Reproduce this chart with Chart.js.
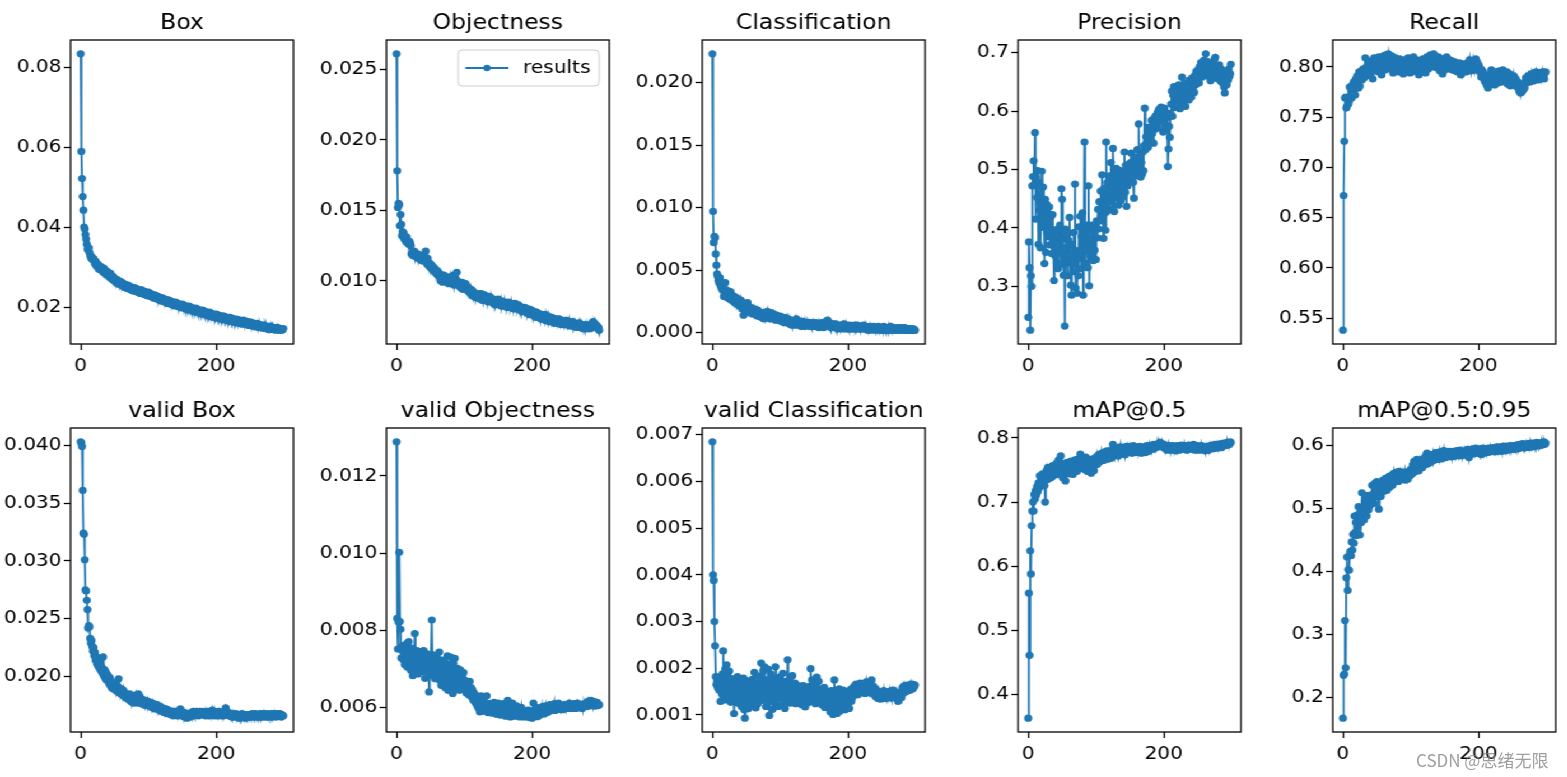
<!DOCTYPE html>
<html>
<head>
<meta charset="utf-8">
<script src="https://cdn.jsdelivr.net/npm/chart.js@4.4.1/dist/chart.umd.min.js"></script>
<style>
  html, body { margin: 0; padding: 0; background: #fff; width: 1567px; height: 777px; overflow: hidden; }
  #fig { position: absolute; left: 0; top: 0; width: 1400px; height: 777px; transform-origin: 0 0; transform: scaleX(1.12); }
  .panel { position: absolute; }
  #mark { position: absolute; left: 1416px; top: 747px; font: 17px "Noto Sans CJK SC", sans-serif; color: rgba(125,125,125,0.75); white-space: nowrap; }
</style>
</head>
<body>
<div id="fig"></div>
<div id="mark">CSDN @思绪无限</div>
<script>
// epochs 0..299
const epochs = [];
for (let e = 0; e < 300; e++) epochs.push(e);

// one value per epoch
const boxLoss = [
  0.0834,0.0590,0.0522,0.0477,0.0443,0.0401,0.0396,0.0382,0.0371,0.0358,
  0.0346,0.0344,0.0349,0.0337,0.0331,0.0324,0.0327,0.0321,0.0319,0.0322,
  0.0318,0.0309,0.0315,0.0304,0.0310,0.0301,0.0306,0.0296,0.0303,0.0294,
  0.0302,0.0292,0.0297,0.0289,0.0298,0.0286,0.0293,0.0288,0.0281,0.0290,
  0.0288,0.0279,0.0283,0.0275,0.0285,0.0272,0.0279,0.0270,0.0277,0.0267,
  0.0272,0.0265,0.0270,0.0261,0.0269,0.0264,0.0258,0.0266,0.0257,0.0263,
  0.0264,0.0255,0.0261,0.0252,0.0259,0.0250,0.0257,0.0253,0.0247,0.0255,
  0.0256,0.0248,0.0253,0.0245,0.0251,0.0243,0.0250,0.0246,0.0241,0.0249,
  0.0249,0.0241,0.0247,0.0239,0.0245,0.0237,0.0244,0.0240,0.0235,0.0243,
  0.0244,0.0236,0.0241,0.0233,0.0240,0.0232,0.0238,0.0234,0.0229,0.0237,
  0.0238,0.0230,0.0235,0.0227,0.0234,0.0226,0.0232,0.0228,0.0223,0.0230,
  0.0231,0.0223,0.0229,0.0221,0.0227,0.0219,0.0226,0.0222,0.0216,0.0224,
  0.0224,0.0216,0.0222,0.0214,0.0221,0.0213,0.0219,0.0215,0.0210,0.0218,
  0.0218,0.0210,0.0216,0.0208,0.0215,0.0207,0.0213,0.0209,0.0204,0.0212,
  0.0213,0.0205,0.0211,0.0203,0.0209,0.0201,0.0208,0.0204,0.0199,0.0206,
  0.0208,0.0200,0.0206,0.0198,0.0204,0.0196,0.0203,0.0199,0.0194,0.0201,
  0.0203,0.0195,0.0201,0.0193,0.0199,0.0191,0.0198,0.0194,0.0189,0.0196,
  0.0198,0.0190,0.0196,0.0188,0.0194,0.0186,0.0193,0.0189,0.0184,0.0191,
  0.0193,0.0185,0.0191,0.0183,0.0189,0.0181,0.0188,0.0184,0.0179,0.0186,
  0.0188,0.0180,0.0186,0.0178,0.0184,0.0176,0.0183,0.0179,0.0174,0.0181,
  0.0183,0.0176,0.0181,0.0174,0.0180,0.0172,0.0179,0.0175,0.0170,0.0177,
  0.0179,0.0172,0.0177,0.0170,0.0176,0.0168,0.0175,0.0171,0.0166,0.0173,
  0.0175,0.0168,0.0173,0.0166,0.0172,0.0164,0.0171,0.0167,0.0162,0.0169,
  0.0171,0.0164,0.0169,0.0162,0.0168,0.0160,0.0167,0.0163,0.0158,0.0165,
  0.0168,0.0161,0.0166,0.0159,0.0165,0.0157,0.0164,0.0160,0.0155,0.0162,
  0.0164,0.0157,0.0162,0.0155,0.0161,0.0153,0.0160,0.0156,0.0151,0.0158,
  0.0160,0.0153,0.0158,0.0151,0.0157,0.0150,0.0156,0.0152,0.0148,0.0154,
  0.0156,0.0149,0.0154,0.0147,0.0153,0.0146,0.0152,0.0148,0.0144,0.0150,
  0.0153,0.0147,0.0151,0.0145,0.0150,0.0144,0.0149,0.0146,0.0143,0.0148,
  0.0150,0.0144,0.0148,0.0143,0.0147,0.0144,0.0146,0.0143,0.0145,0.0147
];
const objLoss = [
  0.0261,0.0178,0.0152,0.0155,0.0154,0.0139,0.0147,0.0140,0.0132,0.0135,
  0.0134,0.0130,0.0132,0.0129,0.0128,0.0131,0.0127,0.0128,0.0126,0.0128,
  0.0127,0.0125,0.0119,0.0120,0.0118,0.0119,0.0121,0.0118,0.0117,0.0119,
  0.0118,0.0116,0.0119,0.0117,0.0118,0.0115,0.0117,0.0116,0.0114,0.0117,
  0.0116,0.0118,0.0115,0.0121,0.0114,0.0112,0.0116,0.0111,0.0113,0.0110,
  0.0112,0.0109,0.0111,0.0108,0.0110,0.0107,0.0109,0.0106,0.0108,0.0105,
  0.0107,0.0104,0.0106,0.0103,0.0105,0.0100,0.0104,0.0102,0.0099,0.0103,
  0.0104,0.0101,0.0103,0.0100,0.0102,0.0099,0.0101,0.0098,0.0102,0.0100,
  0.0103,0.0099,0.0101,0.0098,0.0104,0.0097,0.0100,0.0102,0.0099,0.0106,
  0.0100,0.0097,0.0099,0.0096,0.0098,0.0095,0.0097,0.0099,0.0094,0.0096,
  0.0097,0.0095,0.0098,0.0094,0.0096,0.0093,0.0095,0.0092,0.0094,0.0091,
  0.0094,0.0090,0.0093,0.0089,0.0092,0.0090,0.0091,0.0088,0.0090,0.0089,
  0.0091,0.0088,0.0090,0.0087,0.0089,0.0091,0.0088,0.0086,0.0089,0.0087,
  0.0090,0.0087,0.0089,0.0086,0.0088,0.0085,0.0087,0.0089,0.0086,0.0085,
  0.0088,0.0086,0.0087,0.0084,0.0086,0.0083,0.0085,0.0084,0.0086,0.0083,
  0.0087,0.0084,0.0085,0.0083,0.0086,0.0082,0.0084,0.0083,0.0085,0.0082,
  0.0085,0.0083,0.0084,0.0081,0.0083,0.0085,0.0082,0.0084,0.0081,0.0083,
  0.0084,0.0082,0.0083,0.0080,0.0082,0.0084,0.0081,0.0083,0.0080,0.0082,
  0.0083,0.0080,0.0082,0.0079,0.0081,0.0078,0.0080,0.0079,0.0081,0.0078,
  0.0081,0.0079,0.0080,0.0077,0.0079,0.0078,0.0080,0.0076,0.0078,0.0077,
  0.0079,0.0076,0.0078,0.0075,0.0077,0.0076,0.0078,0.0074,0.0076,0.0075,
  0.0077,0.0075,0.0076,0.0073,0.0075,0.0074,0.0076,0.0073,0.0075,0.0072,
  0.0076,0.0073,0.0074,0.0072,0.0075,0.0071,0.0073,0.0072,0.0074,0.0071,
  0.0074,0.0072,0.0073,0.0070,0.0072,0.0071,0.0073,0.0070,0.0072,0.0071,
  0.0073,0.0071,0.0072,0.0069,0.0071,0.0070,0.0072,0.0069,0.0071,0.0070,
  0.0072,0.0070,0.0071,0.0069,0.0070,0.0068,0.0071,0.0069,0.0070,0.0068,
  0.0071,0.0069,0.0070,0.0068,0.0069,0.0067,0.0069,0.0068,0.0070,0.0067,
  0.0070,0.0068,0.0069,0.0067,0.0068,0.0066,0.0068,0.0067,0.0069,0.0066,
  0.0068,0.0067,0.0068,0.0066,0.0067,0.0069,0.0066,0.0068,0.0067,0.0070,
  0.0071,0.0069,0.0070,0.0068,0.0069,0.0067,0.0068,0.0066,0.0067,0.0065
];
const clsLoss = [
  0.0223,0.0097,0.0072,0.0077,0.0076,0.0063,0.0054,0.0047,0.0045,0.0042,
  0.0040,0.0044,0.0038,0.0036,0.0040,0.0034,0.0037,0.0029,0.0033,0.0040,
  0.0031,0.0034,0.0028,0.0032,0.0030,0.0027,0.0033,0.0029,0.0026,0.0030,
  0.0027,0.0025,0.0029,0.0024,0.0026,0.0028,0.0023,0.0025,0.0027,0.0022,
  0.0025,0.0021,0.0026,0.0023,0.0019,0.0024,0.0014,0.0022,0.0020,0.0023,
  0.0020,0.0018,0.0024,0.0017,0.0021,0.0019,0.0016,0.0020,0.0018,0.0015,
  0.0018,0.0016,0.0019,0.0015,0.0017,0.0014,0.0016,0.0018,0.0013,0.0015,
  0.0016,0.0013,0.0015,0.0012,0.0014,0.0016,0.0011,0.0013,0.0015,0.0012,
  0.0014,0.0017,0.0012,0.0015,0.0013,0.0011,0.0014,0.0016,0.0012,0.0013,
  0.0015,0.0011,0.0013,0.0010,0.0012,0.0014,0.0011,0.0013,0.0010,0.0012,
  0.0011,0.0013,0.0009,0.0012,0.0010,0.0011,0.0008,0.0010,0.0012,0.0009,
  0.0010,0.0008,0.0011,0.0009,0.0007,0.0010,0.0008,0.0006,0.0009,0.0007,
  0.0008,0.0006,0.0009,0.0007,0.0011,0.0008,0.0006,0.0008,0.0007,0.0009,
  0.0007,0.0005,0.0008,0.0006,0.0009,0.0007,0.0005,0.0008,0.0006,0.0007,
  0.0008,0.0006,0.0007,0.0005,0.0008,0.0006,0.0007,0.0005,0.0008,0.0006,
  0.0007,0.0005,0.0006,0.0008,0.0005,0.0007,0.0006,0.0004,0.0007,0.0005,
  0.0006,0.0008,0.0005,0.0007,0.0004,0.0006,0.0005,0.0007,0.0009,0.0006,
  0.0010,0.0007,0.0005,0.0008,0.0006,0.0004,0.0006,0.0005,0.0007,0.0004,
  0.0006,0.0005,0.0007,0.0004,0.0006,0.0003,0.0005,0.0006,0.0004,0.0005,
  0.0004,0.0006,0.0003,0.0005,0.0007,0.0004,0.0005,0.0003,0.0006,0.0004,
  0.0005,0.0003,0.0004,0.0006,0.0003,0.0005,0.0004,0.0003,0.0005,0.0004,
  0.0006,0.0003,0.0005,0.0004,0.0006,0.0003,0.0004,0.0005,0.0003,0.0004,
  0.0003,0.0005,0.0004,0.0006,0.0003,0.0004,0.0005,0.0003,0.0004,0.0002,
  0.0004,0.0003,0.0005,0.0003,0.0004,0.0002,0.0004,0.0003,0.0005,0.0003,
  0.0004,0.0003,0.0002,0.0004,0.0003,0.0005,0.0003,0.0004,0.0002,0.0003,
  0.0004,0.0002,0.0003,0.0005,0.0003,0.0004,0.0002,0.0003,0.0004,0.0002,
  0.0003,0.0004,0.0002,0.0005,0.0003,0.0002,0.0004,0.0003,0.0002,0.0003,
  0.0002,0.0004,0.0003,0.0002,0.0003,0.0004,0.0002,0.0003,0.0002,0.0004,
  0.0003,0.0002,0.0003,0.0002,0.0004,0.0003,0.0002,0.0003,0.0002,0.0003,
  0.0002,0.0003,0.0002,0.0003,0.0002,0.0003,0.0002,0.0003,0.0002,0.0002
];
const precision = [
  0.247,0.376,0.332,0.225,0.318,0.300,0.472,0.488,0.515,0.474,
  0.563,0.415,0.487,0.452,0.498,0.372,0.478,0.430,0.366,0.442,
  0.497,0.401,0.470,0.428,0.339,0.449,0.358,0.441,0.392,0.426,
  0.385,0.436,0.371,0.418,0.392,0.356,0.423,0.381,0.310,0.395,
  0.352,0.387,0.341,0.398,0.330,0.372,0.360,0.405,0.338,0.467,
  0.449,0.381,0.319,0.366,0.232,0.398,0.345,0.389,0.318,0.379,
  0.340,0.418,0.356,0.302,0.285,0.372,0.325,0.392,0.338,0.475,
  0.297,0.361,0.288,0.347,0.318,0.402,0.356,0.420,0.330,0.385,
  0.426,0.285,0.368,0.547,0.340,0.392,0.361,0.405,0.332,0.472,
  0.301,0.380,0.352,0.405,0.368,0.398,0.344,0.392,0.362,0.405,
  0.346,0.412,0.383,0.432,0.398,0.445,0.412,0.463,0.420,0.491,
  0.437,0.382,0.468,0.425,0.396,0.547,0.428,0.478,0.451,0.432,
  0.489,0.445,0.512,0.461,0.432,0.536,0.470,0.428,0.495,0.458,
  0.502,0.451,0.487,0.439,0.478,0.462,0.498,0.447,0.481,0.453,
  0.492,0.470,0.530,0.461,0.507,0.437,0.488,0.472,0.509,0.481,
  0.496,0.512,0.528,0.485,0.503,0.478,0.451,0.521,0.497,0.510,
  0.489,0.534,0.507,0.578,0.495,0.521,0.487,0.512,0.492,0.530,
  0.498,0.541,0.605,0.534,0.556,0.547,0.572,0.538,0.561,0.549,
  0.571,0.552,0.584,0.561,0.578,0.545,0.588,0.569,0.592,0.576,
  0.583,0.598,0.571,0.603,0.588,0.595,0.607,0.582,0.599,0.564,
  0.592,0.605,0.578,0.598,0.571,0.589,0.505,0.535,0.574,0.555,
  0.596,0.612,0.634,0.591,0.627,0.642,0.618,0.606,0.638,0.625,
  0.611,0.632,0.645,0.622,0.604,0.637,0.619,0.658,0.628,0.613,
  0.640,0.622,0.608,0.635,0.648,0.626,0.641,0.619,0.653,0.631,
  0.646,0.624,0.657,0.638,0.650,0.632,0.661,0.645,0.668,0.652,
  0.659,0.671,0.648,0.676,0.662,0.683,0.658,0.672,0.664,0.687,
  0.669,0.678,0.698,0.663,0.685,0.671,0.659,0.677,0.666,0.652,
  0.673,0.661,0.682,0.668,0.657,0.689,0.692,0.670,0.662,0.676,
  0.655,0.668,0.679,0.661,0.651,0.672,0.664,0.648,0.659,0.641,
  0.631,0.652,0.667,0.645,0.660,0.653,0.672,0.659,0.664,0.680
];
const recall = [
  0.538,0.672,0.726,0.769,0.770,0.759,0.761,0.768,0.763,0.766,
  0.780,0.771,0.776,0.769,0.782,0.774,0.785,0.777,0.772,0.788,
  0.783,0.791,0.786,0.779,0.795,0.781,0.790,0.796,0.787,0.793,
  0.798,0.789,0.796,0.809,0.791,0.800,0.794,0.803,0.797,0.805,
  0.799,0.793,0.806,0.800,0.788,0.802,0.809,0.797,0.804,0.799,
  0.807,0.801,0.795,0.810,0.803,0.798,0.806,0.792,0.808,0.801,
  0.811,0.804,0.797,0.812,0.806,0.800,0.809,0.813,0.802,0.807,
  0.798,0.805,0.811,0.800,0.794,0.806,0.802,0.809,0.797,0.804,
  0.799,0.806,0.801,0.795,0.808,0.803,0.797,0.805,0.800,0.793,
  0.804,0.798,0.807,0.801,0.795,0.803,0.809,0.797,0.802,0.794,
  0.806,0.800,0.795,0.803,0.810,0.798,0.804,0.796,0.801,0.807,
  0.797,0.803,0.792,0.806,0.799,0.804,0.795,0.801,0.808,0.798,
  0.805,0.799,0.794,0.802,0.810,0.804,0.798,0.806,0.801,0.812,
  0.803,0.808,0.800,0.806,0.813,0.804,0.809,0.801,0.807,0.799,
  0.805,0.810,0.802,0.796,0.804,0.808,0.800,0.793,0.806,0.802,
  0.797,0.808,0.803,0.810,0.799,0.805,0.801,0.807,0.798,0.804,
  0.800,0.806,0.797,0.803,0.799,0.805,0.796,0.802,0.798,0.795,
  0.801,0.796,0.804,0.799,0.792,0.798,0.794,0.800,0.796,0.803,
  0.797,0.801,0.795,0.799,0.804,0.798,0.802,0.807,0.800,0.796,
  0.804,0.799,0.806,0.801,0.797,0.803,0.808,0.800,0.805,0.798,
  0.802,0.796,0.799,0.794,0.790,0.797,0.792,0.795,0.788,0.791,
  0.785,0.790,0.782,0.788,0.779,0.786,0.792,0.783,0.789,0.797,
  0.791,0.785,0.793,0.787,0.782,0.790,0.795,0.786,0.792,0.784,
  0.789,0.796,0.788,0.793,0.785,0.791,0.797,0.789,0.794,0.786,
  0.792,0.788,0.795,0.783,0.790,0.786,0.793,0.781,0.788,0.784,
  0.788,0.784,0.791,0.786,0.782,0.788,0.784,0.780,0.785,0.779,
  0.776,0.781,0.774,0.778,0.775,0.780,0.777,0.783,0.779,0.785,
  0.789,0.784,0.787,0.791,0.786,0.790,0.785,0.789,0.793,0.787,
  0.791,0.786,0.794,0.788,0.792,0.795,0.789,0.793,0.787,0.791,
  0.794,0.790,0.788,0.793,0.789,0.795,0.791,0.788,0.794,0.795
];
const valBox = [
  0.0403,0.0402,0.0399,0.0361,0.0324,0.0323,0.0301,0.0275,0.0274,0.0266,
  0.0258,0.0242,0.0244,0.0243,0.0233,0.0229,0.0231,0.0226,0.0222,0.0225,
  0.0218,0.0221,0.0214,0.0217,0.0211,0.0216,0.0209,0.0213,0.0207,0.0210,
  0.0205,0.0208,0.0203,0.0217,0.0201,0.0206,0.0199,0.0204,0.0197,0.0202,
  0.0197,0.0200,0.0194,0.0199,0.0192,0.0196,0.0190,0.0195,0.0193,0.0189,
  0.0190,0.0194,0.0188,0.0192,0.0187,0.0191,0.0198,0.0186,0.0190,0.0185,
  0.0187,0.0189,0.0184,0.0188,0.0183,0.0186,0.0182,0.0185,0.0181,0.0184,
  0.0183,0.0180,0.0185,0.0179,0.0182,0.0178,0.0183,0.0180,0.0177,0.0181,
  0.0181,0.0184,0.0179,0.0182,0.0177,0.0185,0.0180,0.0183,0.0178,0.0181,
  0.0179,0.0176,0.0180,0.0177,0.0179,0.0175,0.0178,0.0176,0.0179,0.0175,
  0.0177,0.0175,0.0178,0.0174,0.0176,0.0173,0.0177,0.0174,0.0176,0.0172,
  0.0175,0.0173,0.0176,0.0172,0.0174,0.0171,0.0173,0.0172,0.0174,0.0170,
  0.0173,0.0171,0.0172,0.0169,0.0171,0.0170,0.0172,0.0168,0.0171,0.0169,
  0.0171,0.0168,0.0170,0.0167,0.0169,0.0168,0.0170,0.0166,0.0169,0.0167,
  0.0169,0.0167,0.0168,0.0166,0.0170,0.0167,0.0169,0.0172,0.0168,0.0166,
  0.0168,0.0166,0.0169,0.0165,0.0167,0.0166,0.0168,0.0164,0.0167,0.0165,
  0.0167,0.0165,0.0168,0.0166,0.0169,0.0167,0.0170,0.0168,0.0166,0.0169,
  0.0168,0.0170,0.0167,0.0169,0.0166,0.0168,0.0170,0.0167,0.0169,0.0168,
  0.0170,0.0167,0.0169,0.0168,0.0166,0.0169,0.0167,0.0170,0.0168,0.0166,
  0.0169,0.0167,0.0170,0.0168,0.0171,0.0167,0.0169,0.0166,0.0170,0.0168,
  0.0169,0.0167,0.0166,0.0168,0.0170,0.0167,0.0169,0.0166,0.0168,0.0167,
  0.0169,0.0166,0.0168,0.0171,0.0173,0.0168,0.0170,0.0167,0.0169,0.0166,
  0.0168,0.0166,0.0167,0.0165,0.0168,0.0166,0.0167,0.0165,0.0166,0.0168,
  0.0166,0.0165,0.0167,0.0166,0.0164,0.0167,0.0165,0.0166,0.0168,0.0165,
  0.0167,0.0165,0.0166,0.0164,0.0167,0.0166,0.0165,0.0167,0.0166,0.0165,
  0.0167,0.0165,0.0166,0.0168,0.0166,0.0167,0.0165,0.0166,0.0168,0.0166,
  0.0167,0.0165,0.0166,0.0167,0.0165,0.0168,0.0166,0.0167,0.0165,0.0166,
  0.0168,0.0166,0.0167,0.0165,0.0166,0.0168,0.0167,0.0165,0.0166,0.0167,
  0.0166,0.0168,0.0165,0.0167,0.0166,0.0168,0.0166,0.0167,0.0165,0.0167,
  0.0168,0.0166,0.0167,0.0166,0.0168,0.0167,0.0165,0.0167,0.0166,0.0166
];
const valObj = [
  0.01288,0.00831,0.00752,0.00822,0.01002,0.00823,0.00803,0.00729,0.00748,0.00761,
  0.00724,0.00745,0.00712,0.00758,0.00731,0.00766,0.00705,0.00742,0.00771,0.00718,
  0.00736,0.00697,0.00754,0.00712,0.00683,0.00741,0.00709,0.00792,0.00726,0.00695,
  0.00748,0.00716,0.00687,0.00733,0.00702,0.00745,0.00721,0.00694,0.00738,0.00711,
  0.00748,0.00727,0.00676,0.00741,0.00705,0.00734,0.00688,0.00722,0.00641,0.00715,
  0.00696,0.00739,0.00827,0.00712,0.00683,0.00728,0.00701,0.00675,0.00736,0.00694,
  0.00719,0.00682,0.00709,0.00744,0.00671,0.00701,0.00658,0.00723,0.00686,0.00664,
  0.00697,0.00716,0.00652,0.00688,0.00671,0.00734,0.00645,0.00702,0.00668,0.00712,
  0.00731,0.00654,0.00689,0.00637,0.00715,0.00672,0.00728,0.00648,0.00681,0.00661,
  0.00702,0.00667,0.00688,0.00645,0.00698,0.00671,0.00652,0.00684,0.00663,0.00691,
  0.00672,0.00648,0.00669,0.00638,0.00661,0.00642,0.00657,0.00633,0.00668,0.00641,
  0.00652,0.00628,0.00646,0.00621,0.00639,0.00617,0.00634,0.00612,0.00628,0.00605,
  0.00624,0.00598,0.00617,0.00589,0.00612,0.00631,0.00603,0.00591,0.00618,0.00597,
  0.00612,0.00593,0.00608,0.00631,0.00598,0.00587,0.00611,0.00594,0.00605,0.00589,
  0.00603,0.00586,0.00609,0.00592,0.00614,0.00588,0.00601,0.00583,0.00607,0.00594,
  0.00612,0.00589,0.00602,0.00581,0.00597,0.00609,0.00585,0.00598,0.00611,0.00582,
  0.00595,0.00578,0.00603,0.00587,0.00619,0.00592,0.00584,0.00598,0.00576,0.00601,
  0.00589,0.00612,0.00583,0.00597,0.00578,0.00594,0.00586,0.00605,0.00579,0.00591,
  0.00582,0.00598,0.00576,0.00589,0.00601,0.00579,0.00593,0.00585,0.00576,0.00588,
  0.00581,0.00592,0.00577,0.00586,0.00579,0.00594,0.00575,0.00583,0.00578,0.00587,
  0.00573,0.00588,0.00612,0.00579,0.00594,0.00582,0.00601,0.00585,0.00577,0.00592,
  0.00586,0.00598,0.00581,0.00593,0.00587,0.00603,0.00589,0.00597,0.00584,0.00594,
  0.00605,0.00591,0.00598,0.00588,0.00602,0.00594,0.00608,0.00592,0.00599,0.00604,
  0.00595,0.00607,0.00598,0.00611,0.00593,0.00602,0.00597,0.00605,0.00599,0.00612,
  0.00601,0.00596,0.00607,0.00599,0.00604,0.00595,0.00602,0.00597,0.00608,0.00601,
  0.00606,0.00598,0.00603,0.00609,0.00601,0.00612,0.00604,0.00598,0.00607,0.00602,
  0.00599,0.00605,0.00611,0.00603,0.00608,0.00598,0.00604,0.00612,0.00601,0.00606,
  0.00603,0.00609,0.00601,0.00605,0.00598,0.00607,0.00603,0.00611,0.00604,0.00608,
  0.00606,0.00612,0.00603,0.00617,0.00609,0.00614,0.00606,0.00619,0.00611,0.00605,
  0.00613,0.00608,0.00616,0.00604,0.00611,0.00607,0.00614,0.00609,0.00606,0.00608
];
const valCls = [
  0.00685,0.00400,0.00388,0.00300,0.00248,0.00182,0.00165,0.00172,0.00158,0.00181,
  0.00153,0.00176,0.00129,0.00162,0.00145,0.00188,0.00237,0.00141,0.00172,0.00198,
  0.00132,0.00207,0.00159,0.00183,0.00138,0.00194,0.00152,0.00127,0.00178,0.00162,
  0.00145,0.00171,0.00103,0.00158,0.00136,0.00167,0.00149,0.00182,0.00125,0.00161,
  0.00139,0.00174,0.00152,0.00118,0.00165,0.00133,0.00179,0.00111,0.00093,0.00142,
  0.00168,0.00127,0.00155,0.00113,0.00173,0.00141,0.00119,0.00162,0.00135,0.00176,
  0.00128,0.00157,0.00191,0.00136,0.00115,0.00168,0.00147,0.00124,0.00183,0.00152,
  0.00139,0.00172,0.00211,0.00158,0.00131,0.00194,0.00147,0.00203,0.00162,0.00118,
  0.00175,0.00143,0.00198,0.00127,0.00099,0.00156,0.00188,0.00134,0.00169,0.00112,
  0.00147,0.00178,0.00125,0.00203,0.00159,0.00137,0.00174,0.00118,0.00152,0.00181,
  0.00136,0.00163,0.00121,0.00155,0.00189,0.00132,0.00168,0.00114,0.00147,0.00172,
  0.00128,0.00218,0.00153,0.00139,0.00177,0.00125,0.00161,0.00143,0.00184,0.00131,
  0.00152,0.00137,0.00168,0.00124,0.00149,0.00158,0.00133,0.00145,0.00162,0.00128,
  0.00141,0.00156,0.00122,0.00148,0.00163,0.00131,0.00145,0.00117,0.00152,0.00139,
  0.00158,0.00126,0.00143,0.00161,0.00134,0.00199,0.00148,0.00175,0.00129,0.00151,
  0.00137,0.00162,0.00124,0.00146,0.00181,0.00133,0.00155,0.00172,0.00128,0.00145,
  0.00139,0.00154,0.00121,0.00148,0.00134,0.00159,0.00116,0.00142,0.00127,0.00151,
  0.00133,0.00118,0.00145,0.00126,0.00107,0.00139,0.00152,0.00123,0.00101,0.00136,
  0.00175,0.00112,0.00148,0.00125,0.00103,0.00137,0.00119,0.00156,0.00108,0.00131,
  0.00114,0.00142,0.00126,0.00153,0.00119,0.00135,0.00111,0.00147,0.00128,0.00139,
  0.00121,0.00143,0.00114,0.00136,0.00155,0.00129,0.00147,0.00138,0.00159,0.00146,
  0.00162,0.00151,0.00166,0.00147,0.00159,0.00143,0.00164,0.00152,0.00168,0.00155,
  0.00149,0.00162,0.00154,0.00167,0.00158,0.00146,0.00163,0.00171,0.00155,0.00149,
  0.00161,0.00152,0.00147,0.00168,0.00156,0.00175,0.00151,0.00162,0.00144,0.00158,
  0.00147,0.00139,0.00154,0.00142,0.00135,0.00149,0.00138,0.00145,0.00134,0.00141,
  0.00136,0.00147,0.00139,0.00152,0.00141,0.00135,0.00148,0.00137,0.00144,0.00139,
  0.00145,0.00138,0.00151,0.00142,0.00136,0.00149,0.00141,0.00153,0.00139,0.00146,
  0.00138,0.00147,0.00135,0.00144,0.00129,0.00141,0.00136,0.00148,0.00142,0.00137,
  0.00152,0.00159,0.00147,0.00162,0.00155,0.00149,0.00163,0.00158,0.00151,0.00164,
  0.00157,0.00162,0.00153,0.00166,0.00159,0.00163,0.00156,0.00165,0.00161,0.00164
];
const map50 = [
  0.363,0.558,0.461,0.624,0.588,0.663,0.686,0.700,0.686,0.712,
  0.705,0.718,0.711,0.724,0.716,0.730,0.722,0.741,0.727,0.735,
  0.729,0.744,0.733,0.738,0.726,0.700,0.742,0.749,0.735,0.754,
  0.740,0.748,0.737,0.752,0.744,0.739,0.757,0.746,0.751,0.742,
  0.755,0.748,0.761,0.743,0.752,0.766,0.749,0.758,0.772,0.745,
  0.753,0.738,0.760,0.747,0.756,0.733,0.752,0.762,0.748,0.757,
  0.744,0.759,0.751,0.764,0.749,0.757,0.743,0.762,0.754,0.766,
  0.752,0.760,0.748,0.767,0.755,0.763,0.758,0.775,0.761,0.753,
  0.768,0.757,0.764,0.751,0.762,0.770,0.756,0.748,0.764,0.759,
  0.752,0.766,0.757,0.745,0.761,0.754,0.768,0.749,0.763,0.758,
  0.764,0.771,0.759,0.767,0.774,0.762,0.770,0.765,0.776,0.768,
  0.773,0.765,0.778,0.769,0.775,0.771,0.780,0.767,0.777,0.772,
  0.779,0.774,0.768,0.781,0.776,0.790,0.777,0.783,0.773,0.780,
  0.776,0.784,0.779,0.772,0.782,0.778,0.786,0.775,0.781,0.777,
  0.783,0.779,0.785,0.774,0.781,0.787,0.778,0.784,0.780,0.786,
  0.779,0.785,0.781,0.776,0.783,0.788,0.780,0.784,0.777,0.782,
  0.786,0.780,0.784,0.778,0.782,0.787,0.781,0.776,0.783,0.785,
  0.780,0.786,0.782,0.777,0.784,0.788,0.783,0.779,0.785,0.781,
  0.787,0.783,0.788,0.782,0.786,0.790,0.784,0.788,0.785,0.789,
  0.786,0.791,0.787,0.792,0.788,0.793,0.789,0.786,0.791,0.787,
  0.790,0.785,0.788,0.783,0.787,0.781,0.786,0.782,0.788,0.784,
  0.786,0.781,0.785,0.788,0.783,0.787,0.782,0.786,0.780,0.785,
  0.788,0.783,0.787,0.781,0.786,0.784,0.789,0.782,0.787,0.785,
  0.783,0.788,0.784,0.786,0.781,0.787,0.785,0.789,0.783,0.786,
  0.784,0.788,0.782,0.786,0.790,0.784,0.787,0.781,0.785,0.788,
  0.783,0.787,0.785,0.781,0.786,0.783,0.788,0.784,0.782,0.786,
  0.784,0.780,0.785,0.782,0.787,0.784,0.781,0.786,0.783,0.788,
  0.785,0.789,0.786,0.783,0.788,0.785,0.790,0.787,0.784,0.789,
  0.786,0.790,0.787,0.791,0.788,0.785,0.790,0.787,0.792,0.789,
  0.791,0.788,0.792,0.790,0.793,0.789,0.792,0.790,0.794,0.793
];
const map5095 = [
  0.167,0.235,0.237,0.322,0.247,0.390,0.423,0.370,0.403,0.402,
  0.427,0.432,0.425,0.447,0.434,0.459,0.445,0.488,0.462,0.478,
  0.457,0.490,0.471,0.503,0.484,0.458,0.497,0.478,0.525,0.489,
  0.502,0.482,0.511,0.494,0.516,0.488,0.507,0.521,0.498,0.513,
  0.505,0.519,0.509,0.537,0.512,0.524,0.508,0.540,0.518,0.529,
  0.543,0.522,0.534,0.499,0.528,0.538,0.519,0.541,0.531,0.545,
  0.527,0.539,0.533,0.548,0.536,0.529,0.544,0.538,0.551,0.534,
  0.546,0.540,0.553,0.537,0.549,0.556,0.542,0.551,0.545,0.558,
  0.548,0.554,0.543,0.559,0.550,0.546,0.557,0.552,0.548,0.555,
  0.551,0.558,0.545,0.553,0.549,0.556,0.547,0.554,0.560,0.552,
  0.557,0.563,0.555,0.569,0.561,0.575,0.558,0.572,0.564,0.578,
  0.566,0.571,0.560,0.574,0.568,0.576,0.570,0.565,0.579,0.573,
  0.577,0.569,0.583,0.574,0.588,0.578,0.571,0.585,0.576,0.582,
  0.574,0.580,0.576,0.586,0.579,0.583,0.577,0.589,0.581,0.585,
  0.578,0.584,0.580,0.590,0.583,0.587,0.579,0.586,0.582,0.592,
  0.584,0.588,0.581,0.586,0.590,0.583,0.589,0.585,0.591,0.586,
  0.582,0.588,0.584,0.591,0.586,0.583,0.589,0.585,0.592,0.587,
  0.584,0.590,0.586,0.593,0.588,0.584,0.591,0.587,0.589,0.585,
  0.590,0.586,0.592,0.588,0.594,0.589,0.581,0.591,0.587,0.593,
  0.589,0.595,0.590,0.587,0.594,0.591,0.596,0.588,0.593,0.590,
  0.592,0.588,0.595,0.591,0.586,0.593,0.589,0.596,0.592,0.588,
  0.594,0.590,0.595,0.592,0.589,0.596,0.593,0.590,0.595,0.591,
  0.593,0.597,0.592,0.595,0.590,0.596,0.593,0.598,0.594,0.591,
  0.596,0.593,0.598,0.595,0.591,0.597,0.594,0.599,0.595,0.592,
  0.597,0.594,0.599,0.596,0.593,0.598,0.595,0.600,0.596,0.594,
  0.598,0.595,0.600,0.597,0.594,0.599,0.596,0.601,0.597,0.595,
  0.599,0.602,0.597,0.600,0.598,0.603,0.599,0.596,0.601,0.598,
  0.602,0.599,0.603,0.600,0.597,0.602,0.599,0.604,0.600,0.598,
  0.601,0.604,0.600,0.603,0.599,0.602,0.605,0.601,0.603,0.600,
  0.603,0.600,0.604,0.602,0.605,0.601,0.603,0.606,0.602,0.604
];

const titles = ['Box', 'Objectness', 'Classification', 'Precision', 'Recall',
  'valid Box', 'valid Objectness', 'valid Classification', 'mAP@0.5', 'mAP@0.5:0.95'];
const seriesList = [boxLoss, objLoss, clsLoss, precision, recall, valBox, valObj, valCls, map50, map5095];
const yTickValues = [
  [0.02, 0.04, 0.06, 0.08],
  [0.010, 0.015, 0.020, 0.025],
  [0.000, 0.005, 0.010, 0.015, 0.020],
  [0.3, 0.4, 0.5, 0.6, 0.7],
  [0.55, 0.60, 0.65, 0.70, 0.75, 0.80],
  [0.020, 0.025, 0.030, 0.035, 0.040],
  [0.006, 0.008, 0.010, 0.012],
  [0.001, 0.002, 0.003, 0.004, 0.005, 0.006, 0.007],
  [0.4, 0.5, 0.6, 0.7, 0.8],
  [0.2, 0.3, 0.4, 0.5, 0.6]
];
const yTickLabels = [
  ['0.02', '0.04', '0.06', '0.08'],
  ['0.010', '0.015', '0.020', '0.025'],
  ['0.000', '0.005', '0.010', '0.015', '0.020'],
  ['0.3', '0.4', '0.5', '0.6', '0.7'],
  ['0.55', '0.60', '0.65', '0.70', '0.75', '0.80'],
  ['0.020', '0.025', '0.030', '0.035', '0.040'],
  ['0.006', '0.008', '0.010', '0.012'],
  ['0.001', '0.002', '0.003', '0.004', '0.005', '0.006', '0.007'],
  ['0.4', '0.5', '0.6', '0.7', '0.8'],
  ['0.2', '0.3', '0.4', '0.5', '0.6']
];
const xTickValues = [0, 200];
const xTickLabels = ['0', '200'];
const legendLabel = 'results';

// layout (page pixels); the figure is stretched horizontally by SX
const SX = 1.12;
const colLeft = [70, 386, 702, 1018, 1333];
const rowTop = [40, 428];
const PLOT_W = Math.round(223 / SX), PLOT_H = 304;
const Y_AX = 60, X_AX = 40, TOP_PAD = 40, RIGHT_PAD = 10;
const BLUE = '#1f77b4';
const FONT = 'DejaVu Sans';
const DOT = 3.6;

const panelPlugin = {
  id: 'panel',
  afterDraw(chart, args, opts) {
    const ctx = chart.ctx, a = chart.chartArea;
    ctx.save();
    ctx.strokeStyle = '#000';
    ctx.lineWidth = 1.3;
    ctx.strokeRect(a.left, a.top, a.right - a.left, a.bottom - a.top);
    ctx.fillStyle = '#000';
    ctx.font = '21px "' + FONT + '"';
    ctx.textAlign = 'center';
    ctx.textBaseline = 'alphabetic';
    ctx.fillText(opts.title, (a.left + a.right) / 2, a.top - 11);
    if (opts.legend) {
      const bw = 126, bh = 36;
      const bx = a.right - 9 - bw, by = a.top + 10;
      ctx.beginPath();
      ctx.roundRect(bx, by, bw, bh, 4);
      ctx.fillStyle = 'rgba(255,255,255,0.8)';
      ctx.fill();
      ctx.strokeStyle = '#cccccc';
      ctx.lineWidth = 1;
      ctx.stroke();
      const my = by + bh / 2;
      ctx.strokeStyle = BLUE;
      ctx.lineWidth = 1.8;
      ctx.beginPath();
      ctx.moveTo(bx + 6.5, my);
      ctx.lineTo(bx + 45, my);
      ctx.stroke();
      ctx.fillStyle = BLUE;
      ctx.beginPath();
      ctx.arc(bx + 25.8, my, 3.2, 0, Math.PI * 2);
      ctx.fill();
      ctx.fillStyle = '#000';
      ctx.textAlign = 'left';
      ctx.textBaseline = 'middle';
      ctx.font = '18px "' + FONT + '"';
      ctx.fillText(opts.legend, bx + 58, my);
    }
    ctx.restore();
  }
};

function padRange(vals) {
  const lo = Math.min(...vals), hi = Math.max(...vals);
  const p = (hi - lo) * 0.05;
  return [lo - p, hi + p];
}

const fig = document.getElementById('fig');
const [xMin, xMax] = padRange(epochs);

seriesList.forEach(function(series, i) {
  const c = i % 5, r = Math.floor(i / 5);
  const wrap = document.createElement('div');
  wrap.className = 'panel';
  wrap.style.left = (colLeft[c] / SX - Y_AX) + 'px';
  wrap.style.top = (rowTop[r] - TOP_PAD) + 'px';
  const canvas = document.createElement('canvas');
  canvas.width = Y_AX + PLOT_W + RIGHT_PAD;
  canvas.height = TOP_PAD + PLOT_H + X_AX;
  wrap.appendChild(canvas);
  fig.appendChild(wrap);

  const [yMin, yMax] = padRange(series);
  const tickFont = { family: FONT, size: 18 };
  const grid = { drawOnChartArea: false, drawTicks: true, tickLength: 6, tickWidth: 1.3, tickColor: '#000' };

  new Chart(canvas, {
    type: 'line',
    data: {
      datasets: [{
        label: legendLabel,
        data: epochs.map((e, k) => ({ x: e, y: series[k] })),
        borderColor: BLUE,
        backgroundColor: BLUE,
        borderWidth: 1.8,
        pointRadius: DOT,
        pointBorderWidth: 0,
        pointHoverRadius: 0,
        tension: 0
      }]
    },
    options: {
      responsive: false,
      animation: false,
      events: [],
      layout: { padding: { top: TOP_PAD, right: RIGHT_PAD, left: 0, bottom: 0 } },
      scales: {
        x: {
          type: 'linear', min: xMin, max: xMax,
          afterBuildTicks: s => { s.ticks = xTickValues.map(v => ({ value: v })); },
          afterFit: s => { s.height = X_AX; },
          ticks: { callback: (v, k) => xTickLabels[k], font: tickFont, color: '#000', padding: 6, maxRotation: 0, autoSkip: false },
          grid: grid,
          border: { display: false }
        },
        y: {
          type: 'linear', min: yMin, max: yMax,
          afterBuildTicks: s => { s.ticks = yTickValues[i].map(v => ({ value: v })); },
          afterFit: s => { s.width = Y_AX; },
          ticks: { callback: (v, k) => yTickLabels[i][k], font: tickFont, color: '#000', padding: 2, autoSkip: false },
          grid: grid,
          border: { display: false }
        }
      },
      plugins: {
        legend: { display: false },
        tooltip: { enabled: false },
        panel: { title: titles[i], legend: i === 1 ? legendLabel : null }
      }
    },
    plugins: [panelPlugin]
  });
});
</script>
</body>
</html>
